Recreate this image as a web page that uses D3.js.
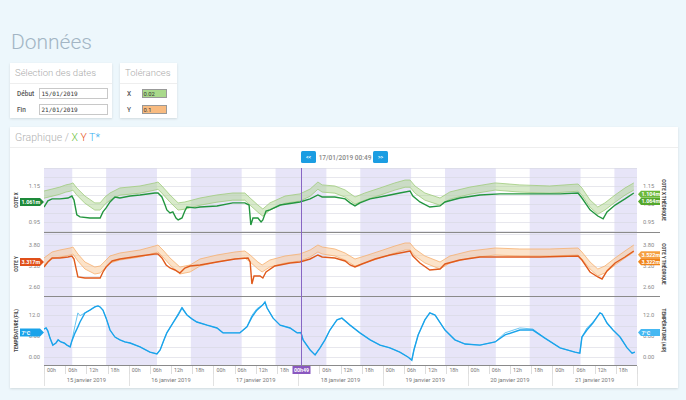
<!DOCTYPE html>
<html>
<head>
<meta charset="utf-8">
<script src="https://cdn.jsdelivr.net/npm/d3@7/dist/d3.min.js"></script>
<style>
  body { margin: 0; background: #edf7fc; font-family: Roboto, "Noto Sans", sans-serif; }
</style>
</head>
<body>
<div id="chart"></div>
<script>
// time is in hours from 15/01/2019 00:00
var startDate = new Date(2019, 0, 15);
var spanHours = 168;
var dayLabels = ['15 janvier 2019', '16 janvier 2019', '17 janvier 2019', '18 janvier 2019',
  '19 janvier 2019', '20 janvier 2019', '21 janvier 2019'];
var nightBands = [[0, 8], [17.6, 32], [41.6, 56], [65.6, 80], [89.6, 104], [113.6, 128], [137.6, 152], [161.6, 168]];

var tolX = 0.02, tolY = 0.1;

var xTheo = [[0,1.102],[2.3,1.113],[4.5,1.124],[6.2,1.136],[7.4,1.141],[8.2,1.147],[9.3,1.119],[11.6,1.074],
  [14.4,1.036],[15.9,1.036],[17.3,1.069],[18.7,1.091],[21.5,1.119],[27.2,1.130],[31.4,1.147],[32.3,1.152],
  [33.4,1.130],[35.7,1.080],[38.0,1.036],[39.9,1.041],[44.2,1.063],[49.0,1.080],[53.5,1.091],[56.9,1.091],
  [58.4,1.063],[60.6,1.024],[62.0,1.002],[64.0,1.036],[68.3,1.074],[72.5,1.086],[75.4,1.113],[77.6,1.152],
  [78.8,1.136],[82.4,1.130],[85.3,1.108],[88.1,1.069],[90.9,1.091],[95.2,1.119],[99.4,1.147],[102.3,1.163],
  [103.7,1.163],[105.1,1.130],[107.9,1.091],[112.2,1.063],[115.0,1.097],[120.7,1.124],[127.8,1.147],
  [134.8,1.136],[143.3,1.130],[151.3,1.141],[152.4,1.119],[154.7,1.052],[156.9,1.013],[158.9,1.036],
  [161.8,1.080],[164.6,1.119],[167.1,1.147]];
var xMes = [[0,1.033],[1.1,1.067],[2.3,1.078],[4.5,1.078],[6.8,1.083],[7.9,1.094],[8.5,1.072],[9.3,0.989],
  [10.2,0.978],[13.0,0.972],[15.9,0.972],[16.7,1.006],[17.6,1.028],[18.7,1.061],[20.1,1.089],[21.5,1.083],
  [24.4,1.094],[27.2,1.100],[31.4,1.111],[32.3,1.111],[33.4,1.089],[34.3,1.044],[34.8,1.017],[35.7,1.000],
  [36.5,1.006],[37.4,0.972],[38.0,0.961],[39.1,0.972],[39.9,1.011],[40.5,1.033],[42.8,1.028],[44.2,1.033],
  [49.0,1.039],[53.5,1.056],[56.9,1.056],[58.1,1.044],[58.6,0.933],[59.2,0.972],[60.6,0.972],[61.5,0.950],
  [62.0,0.961],[62.9,1.011],[64.0,1.017],[66.9,1.044],[72.5,1.061],[75.4,1.078],[77.6,1.100],[78.8,1.089],
  [82.4,1.089],[85.3,1.078],[86.7,1.056],[88.1,1.039],[89.5,1.056],[92.4,1.078],[96.6,1.094],[100.8,1.111],
  [103.7,1.122],[104.5,1.094],[106.5,1.061],[109.3,1.033],[112.2,1.039],[113.6,1.061],[117.8,1.083],
  [123.5,1.100],[129.2,1.106],[137.7,1.106],[146.2,1.106],[151.3,1.111],[152.4,1.083],[154.7,1.017],
  [156.9,0.983],[158.4,0.967],[159.5,1.006],[161.8,1.044],[164.6,1.078],[167.1,1.111]];

var yTheo = [[0,3.329],[2.3,3.500],[4.5,3.557],[7.4,3.614],[8.2,3.643],[9.6,3.443],[11.6,3.214],[14.4,3.071],
  [15.9,3.100],[17.6,3.271],[18.7,3.386],[21.5,3.471],[27.2,3.557],[31.4,3.671],[32.3,3.700],[33.7,3.557],
  [35.7,3.329],[38.5,3.071],[41.4,3.129],[44.2,3.300],[49.0,3.414],[54.1,3.500],[56.9,3.529],[58.4,3.414],
  [60.6,3.214],[61.8,3.129],[64.0,3.271],[68.3,3.386],[72.5,3.443],[75.4,3.557],[77.6,3.700],[78.8,3.643],
  [82.4,3.586],[85.3,3.471],[88.1,3.300],[90.9,3.386],[95.2,3.529],[99.4,3.671],[102.3,3.757],[103.7,3.757],
  [105.1,3.586],[107.9,3.386],[112.2,3.214],[115.0,3.386],[120.7,3.529],[127.8,3.614],[134.8,3.586],
  [143.3,3.586],[151.3,3.614],[152.4,3.500],[154.7,3.214],[156.9,3.014],[158.9,3.100],[161.8,3.329],
  [164.6,3.529],[167.1,3.700]];
var yMes = [[0,3.171],[1.1,3.314],[2.3,3.429],[4.5,3.429],[6.8,3.457],[7.9,3.486],[8.5,3.400],[9.6,2.886],
  [11.6,2.857],[15.9,2.857],[16.7,3.029],[17.6,3.171],[19.3,3.343],[21.5,3.400],[27.2,3.486],[31.4,3.543],
  [32.3,3.543],[33.4,3.429],[34.6,3.229],[35.7,3.143],[37.1,3.086],[38.5,3.000],[39.9,3.143],[41.4,3.200],
  [44.2,3.229],[49.0,3.314],[54.1,3.400],[57.8,3.429],[58.4,3.314],[58.9,2.686],[59.5,2.914],[61.2,2.914],
  [62.0,2.857],[62.9,3.029],[65.4,3.200],[69.7,3.286],[72.5,3.314],[75.4,3.400],[77.6,3.514],[78.8,3.457],
  [82.4,3.429],[85.3,3.343],[86.7,3.229],[88.1,3.171],[90.1,3.257],[93.8,3.400],[98.0,3.514],[102.3,3.600],
  [103.7,3.629],[104.5,3.486],[106.5,3.286],[109.3,3.086],[112.2,3.114],[113.6,3.257],[117.8,3.371],
  [123.5,3.457],[129.2,3.457],[140.5,3.457],[151.3,3.486],[152.4,3.371],[154.7,3.029],[156.9,2.886],
  [158.1,2.829],[159.5,3.057],[161.8,3.286],[164.6,3.457],[167.1,3.629]];

var tFil = [[0,8.0],[0.6,8.3],[1.1,7.4],[1.7,5.4],[2.5,3.4],[3.4,4.0],[4.0,4.9],[4.8,4.3],[5.7,4.0],[6.5,3.4],
  [7.4,2.9],[7.9,4.6],[8.8,6.9],[9.6,8.6],[10.2,10.0],[11.6,12.6],[13.0,13.4],[14.4,14.3],[15.3,14.6],
  [15.9,14.3],[16.7,13.4],[17.6,11.1],[18.7,7.7],[20.1,5.7],[21.5,4.9],[22.9,4.3],[24.4,4.0],[27.2,2.9],
  [30.0,1.4],[32.0,0.9],[32.9,2.0],[34.0,4.9],[34.8,6.9],[36.5,9.7],[38.0,12.0],[39.1,14.0],[40.5,12.0],
  [41.9,10.9],[43.3,10.0],[46.2,9.1],[49.0,8.3],[50.7,6.9],[53.5,6.9],[55.5,6.9],[57.5,8.6],[58.9,11.4],
  [60.3,13.4],[62.0,14.9],[62.6,15.7],[63.2,14.0],[64.9,11.1],[66.9,9.1],[69.7,8.3],[71.7,6.9],[72.8,7.0],
  [73.4,4.9],[75.4,2.0],[76.8,0.6],[78.2,2.6],[79.6,4.9],[81.0,7.7],[83.0,10.6],[84.4,11.1],[86.7,9.1],
  [89.5,6.9],[92.4,4.9],[95.2,3.4],[98.0,2.6],[100.8,1.4],[103.1,0.0],[104.2,-0.9],[104.8,2.0],[106.0,6.3],
  [107.9,10.6],[109.3,12.6],[110.8,12.0],[113.6,7.7],[116.4,4.9],[119.3,3.7],[123.5,3.4],[127.8,4.3],
  [130.6,6.3],[134.8,7.7],[138.5,7.7],[141.9,5.4],[146.2,2.6],[150.4,1.4],[151.8,1.1],[152.4,5.7],
  [153.8,7.7],[155.5,9.7],[157.5,12.6],[158.1,12.3],[159.5,9.7],[161.2,7.7],[163.2,5.7],[165.2,2.6],
  [166.6,1.1],[167.4,1.4]];
var tAir = [[0,8.0],[0.6,8.3],[1.1,7.4],[1.7,5.4],[2.5,3.4],[3.4,4.0],[4.0,4.9],[4.8,4.3],[5.7,4.0],[6.5,3.4],
  [7.4,2.9],[7.9,4.6],[8.8,9.0],[9.6,12.6],[10.2,11.8],[11.6,12.6],[13.0,13.4],[14.4,14.3],[15.3,14.6],
  [15.9,14.3],[16.7,13.4],[17.6,11.1],[18.7,7.7],[20.1,5.7],[21.5,4.9],[22.9,4.3],[24.4,4.0],[27.2,2.9],
  [30.0,1.4],[32.0,0.9],[32.9,2.0],[34.0,4.9],[34.8,6.9],[36.5,9.7],[38.0,12.4],[39.1,14.3],[40.5,12.0],
  [41.9,10.9],[43.3,10.0],[46.2,9.1],[49.0,8.3],[50.7,6.9],[53.5,6.9],[55.5,6.9],[57.5,8.6],[58.9,11.9],
  [60.3,13.8],[62.0,14.9],[62.6,15.7],[63.2,14.0],[64.9,11.1],[66.9,9.1],[69.7,8.3],[71.7,6.9],[72.8,7.0],
  [73.4,4.9],[75.4,2.0],[76.8,0.6],[78.2,2.6],[79.6,4.9],[81.0,7.7],[83.0,10.6],[84.4,11.1],[86.7,9.1],
  [89.5,6.9],[92.4,4.9],[95.2,3.4],[98.0,2.6],[100.8,1.4],[103.1,0.0],[104.2,-0.9],[104.8,2.0],[106.0,6.3],
  [107.9,10.6],[109.3,12.6],[110.8,12.0],[113.6,7.7],[116.4,4.9],[119.3,3.7],[123.5,3.4],[127.8,4.3],
  [130.6,6.9],[134.8,8.3],[138.5,8.0],[141.9,5.4],[146.2,2.6],[150.4,1.4],[151.8,1.1],[152.4,5.7],
  [153.8,8.3],[155.5,10.0],[157.5,12.6],[158.1,12.3],[159.5,9.7],[161.2,7.7],[163.2,5.7],[165.2,2.6],
  [166.6,1.1],[167.4,1.4]];

var xTicks = [0.95, 1.05, 1.15], xGrid = [0.90, 0.95, 1.00, 1.05, 1.10, 1.15, 1.20, 1.25];
var yTicks = [2.60, 3.20, 3.80], yGrid = [2.60, 2.90, 3.20, 3.50, 3.80, 4.10];
var tTicks = [0, 6, 12], tGrid = [0, 3, 6, 9, 12, 15];

var cursorHour = 72 + 49 / 60;
var cursorText = '17/01/2019 00:49', cursorTick = '00h49';
var cursorX = 1.061, cursorXTheo = 1.084;
var cursorY = 3.317, cursorYTheo = 3.422;
var cursorT = 7, cursorTAir = 7;

function toDate(h) { return new Date(startDate.getTime() + h * 3600e3); }

var svg = d3.select('#chart').append('svg')
  .attr('width', 686)
  .attr('height', 400)
  .style('display', 'block');

var defs = svg.append('defs');
defs.append('filter').attr('id', 'shadow')
  .attr('x', '-5%').attr('y', '-5%').attr('width', '110%').attr('height', '115%')
  .append('feDropShadow')
  .attr('dx', 0).attr('dy', 1).attr('stdDeviation', 1.2)
  .attr('flood-color', '#000').attr('flood-opacity', 0.12);

// page title
svg.append('text').attr('x', 11).attr('y', 49)
  .attr('font-size', 21).attr('font-weight', 300).attr('fill', '#a2b5c4')
  .text('Données');

function card(x, y, w, h) {
  svg.append('rect').attr('x', x).attr('y', y).attr('width', w).attr('height', h)
    .attr('fill', '#fff').attr('filter', 'url(#shadow)');
}

// date selection card
card(10, 63, 102, 55);
svg.append('text').attr('x', 15).attr('y', 76).attr('font-size', 9.5).attr('font-weight', 300)
  .attr('fill', '#aaa').text('Sélection des dates');
svg.append('line').attr('x1', 10).attr('x2', 112).attr('y1', 83.5).attr('y2', 83.5).attr('stroke', '#eee');
[['Début', '15/01/2019', 88], ['Fin', '21/01/2019', 104]].forEach(function(r) {
  svg.append('text').attr('x', 17).attr('y', r[2] + 7.5).attr('font-size', 6.5).attr('font-weight', 500)
    .attr('fill', '#555').text(r[0]);
  svg.append('rect').attr('x', 39.5).attr('y', r[2] + 0.5).attr('width', 68).attr('height', 10)
    .attr('fill', '#fff').attr('stroke', '#c8c8c8');
  svg.append('text').attr('x', 41.5).attr('y', r[2] + 7.8).attr('font-size', 6)
    .attr('font-family', '"DejaVu Sans Mono", monospace').attr('fill', '#333').text(r[1]);
});

// tolerance card
card(120, 63, 57, 55);
svg.append('text').attr('x', 125).attr('y', 76).attr('font-size', 9.5).attr('font-weight', 300)
  .attr('fill', '#aaa').text('Tolérances');
svg.append('line').attr('x1', 120).attr('x2', 177).attr('y1', 83.5).attr('y2', 83.5).attr('stroke', '#eee');
[['X', tolX, 89, '#a9d98b'], ['Y', tolY, 105, '#f8bb80']].forEach(function(r) {
  svg.append('text').attr('x', 127).attr('y', r[2] + 6.5).attr('font-size', 6.5).attr('font-weight', 500)
    .attr('fill', '#555').text(r[0]);
  svg.append('rect').attr('x', 142.5).attr('y', r[2] + 0.5).attr('width', 24).attr('height', 8)
    .attr('fill', r[3]).attr('stroke', '#999');
  svg.append('text').attr('x', 143.5).attr('y', r[2] + 6.8).attr('font-size', 5.8)
    .attr('fill', '#333').text(r[1]);
});

// main chart card
card(10, 127, 668, 261);
var head = svg.append('text').attr('x', 15).attr('y', 140.5).attr('font-size', 10.5)
  .attr('font-weight', 300).attr('fill', '#b0b0b0');
head.append('tspan').text('Graphique / ');
head.append('tspan').attr('fill', '#6cbf3c').text('X ');
head.append('tspan').attr('fill', '#e8541c').text('Y ');
head.append('tspan').attr('fill', '#35aef0').text('T*');
svg.append('line').attr('x1', 10).attr('x2', 678).attr('y1', 147.5).attr('y2', 147.5).attr('stroke', '#eee');

[[301, '<<'], [373, '>>']].forEach(function(b) {
  svg.append('rect').attr('x', b[0]).attr('y', 151).attr('width', 15).attr('height', 12).attr('rx', 1.5)
    .attr('fill', '#1b9de2');
  svg.append('text').attr('x', b[0] + 7.5).attr('y', 159).attr('text-anchor', 'middle')
    .attr('font-size', 5).attr('font-weight', 700).attr('fill', '#fff').text(b[1]);
});
svg.append('text').attr('x', 345).attr('y', 159.5).attr('text-anchor', 'middle')
  .attr('font-size', 6.5).attr('font-weight', 500).attr('fill', '#888').text(cursorText);

// plot
var left = 44, right = 637;
var x = d3.scaleTime().domain([toDate(0), toDate(spanHours)]).range([left, right]);

var panels = [
  { top: 168, bottom: 232, domain: [0.894, 1.25], ticks: xTicks, grid: xGrid, fmt: d3.format('.2f'),
    titleL: 'COTE X', titleR: 'COTE X THÉORIQUE' },
  { top: 232, bottom: 296, domain: [2.343, 4.171], ticks: yTicks, grid: yGrid, fmt: d3.format('.2f'),
    titleL: 'COTE Y', titleR: 'COTE Y THÉORIQUE' },
  { top: 296, bottom: 365, domain: [-2.286, 17.43], ticks: tTicks, grid: tGrid, fmt: d3.format('.3r'),
    titleL: 'TEMPÉRATURE (FIL)', titleR: 'TEMPÉRATURE (AIR)' }
];
panels.forEach(function(p) {
  p.y = d3.scaleLinear().domain(p.domain).range([p.bottom, p.top]);
});

var plot = svg.append('g');
plot.selectAll('rect.night').data(nightBands).enter().append('rect')
  .attr('x', function(d) { return x(toDate(d[0])); })
  .attr('width', function(d) { return x(toDate(d[1])) - x(toDate(d[0])); })
  .attr('y', 168).attr('height', 365 - 168)
  .attr('fill', '#e7e5f8');

panels.forEach(function(p, i) {
  var g = plot.append('g');
  g.selectAll('line.grid').data(p.grid).enter().append('line')
    .attr('x1', left).attr('x2', right)
    .attr('y1', function(d) { return Math.round(p.y(d)) + 0.5; })
    .attr('y2', function(d) { return Math.round(p.y(d)) + 0.5; })
    .attr('stroke', '#d6d6e0').attr('stroke-width', 0.6);

  g.selectAll('text.tl').data(p.ticks).enter().append('text')
    .attr('x', 40).attr('y', function(d) { return p.y(d) + 2; })
    .attr('text-anchor', 'end').attr('font-size', 5.8).attr('fill', '#888')
    .text(p.fmt);
  g.selectAll('text.tr').data(p.ticks).enter().append('text')
    .attr('x', 643).attr('y', function(d) { return p.y(d) + 2; })
    .attr('font-size', 5.8).attr('fill', '#888')
    .text(p.fmt);

  var cy = (p.top + p.bottom) / 2;
  svg.append('text').attr('transform', 'translate(18,' + cy + ') rotate(-90)')
    .attr('text-anchor', 'middle').attr('font-size', 4.6).attr('font-weight', 700)
    .attr('fill', '#444').text(p.titleL);
  svg.append('text').attr('transform', 'translate(662,' + cy + ') rotate(90)')
    .attr('text-anchor', 'middle').attr('font-size', 4.6).attr('font-weight', 700)
    .attr('fill', '#444').text(p.titleR);

  defs.append('clipPath').attr('id', 'clip' + i).append('rect')
    .attr('x', left).attr('y', p.top).attr('width', right - left).attr('height', p.bottom - p.top);
});

function lineFor(p) {
  return d3.line()
    .x(function(d) { return x(toDate(d[0])); })
    .y(function(d) { return p.y(d[1]); });
}
function bandFor(p, tol) {
  return d3.area()
    .x(function(d) { return x(toDate(d[0])); })
    .y0(function(d) { return p.y(d[1] - tol); })
    .y1(function(d) { return p.y(d[1] + tol); });
}

var px = panels[0], py = panels[1], pt = panels[2];

var gx = plot.append('g').attr('clip-path', 'url(#clip0)');
gx.append('path').datum(xTheo).attr('d', bandFor(px, tolX))
  .attr('fill', '#a8d08a').attr('fill-opacity', 0.45);
[tolX, -tolX].forEach(function(t) {
  gx.append('path').datum(xTheo.map(function(d) { return [d[0], d[1] + t]; }))
    .attr('d', lineFor(px)).attr('fill', 'none').attr('stroke', '#9fcc7c').attr('stroke-width', 0.8);
});
gx.append('path').datum(xMes).attr('d', lineFor(px))
  .attr('fill', 'none').attr('stroke', '#23963f').attr('stroke-width', 1.4);

var gy = plot.append('g').attr('clip-path', 'url(#clip1)');
gy.append('path').datum(yTheo).attr('d', bandFor(py, tolY))
  .attr('fill', '#f9c794').attr('fill-opacity', 0.5);
[tolY, -tolY].forEach(function(t) {
  gy.append('path').datum(yTheo.map(function(d) { return [d[0], d[1] + t]; }))
    .attr('d', lineFor(py)).attr('fill', 'none').attr('stroke', '#f6b070').attr('stroke-width', 0.8);
});
gy.append('path').datum(yMes).attr('d', lineFor(py))
  .attr('fill', 'none').attr('stroke', '#e05a1c').attr('stroke-width', 1.4);

var gt = plot.append('g').attr('clip-path', 'url(#clip2)');
gt.append('path').datum(tAir).attr('d', lineFor(pt))
  .attr('fill', 'none').attr('stroke', '#6cc6f2').attr('stroke-width', 1);
gt.append('path').datum(tFil).attr('d', lineFor(pt))
  .attr('fill', 'none').attr('stroke', '#1aa3ea').attr('stroke-width', 1.4);

// panel separators
[232, 296].forEach(function(yy) {
  svg.append('line').attr('x1', left).attr('x2', 660).attr('y1', yy + 0.5).attr('y2', yy + 0.5)
    .attr('stroke', '#8a8a8a').attr('stroke-width', 1);
});
svg.append('line').attr('x1', left).attr('x2', right).attr('y1', 365.5).attr('y2', 365.5)
  .attr('stroke', '#8a8a8a').attr('stroke-width', 1);

// time axis
var hourTicks = x.ticks(d3.timeHour.every(6));
var axis = svg.append('g');
axis.selectAll('line.ht').data(hourTicks).enter().append('line')
  .attr('x1', function(d) { return Math.round(x(d)) + 0.5; })
  .attr('x2', function(d) { return Math.round(x(d)) + 0.5; })
  .attr('y1', 366).attr('y2', 374).attr('stroke', '#ddd');
axis.selectAll('text.ht').data(hourTicks.slice(0, -1)).enter().append('text')
  .attr('x', function(d) { return x(d) + 3; }).attr('y', 371.5)
  .attr('font-size', 5.3).attr('fill', '#777')
  .text(d3.timeFormat('%Hh'));
var days = d3.range(dayLabels.length + 1).map(function(i) { return toDate(i * 24); });
axis.selectAll('line.dt').data(days).enter().append('line')
  .attr('x1', function(d) { return Math.round(x(d)) + 0.5; })
  .attr('x2', function(d) { return Math.round(x(d)) + 0.5; })
  .attr('y1', 374).attr('y2', 386).attr('stroke', '#e2e2e2');
axis.selectAll('text.dt').data(dayLabels).enter().append('text')
  .attr('x', function(d, i) { return x(toDate(i * 24 + 12)); }).attr('y', 381.5)
  .attr('text-anchor', 'middle').attr('font-size', 5.8).attr('fill', '#777')
  .text(function(d) { return d; });

// cursor
var cx = Math.round(x(toDate(cursorHour))) + 0.5;
svg.append('line').attr('x1', cx).attr('x2', cx).attr('y1', 168).attr('y2', 366)
  .attr('stroke', '#8866c4').attr('stroke-width', 1);
svg.append('rect').attr('x', cx - 9).attr('y', 366).attr('width', 18).attr('height', 8)
  .attr('fill', '#8a58bf');
svg.append('text').attr('x', cx).attr('y', 371.8).attr('text-anchor', 'middle')
  .attr('font-size', 5.3).attr('font-weight', 700).attr('fill', '#fff').text(cursorTick);

function tag(side, yy, color, txt) {
  var pts;
  if (side === 'left') pts = [[20, yy - 4], [40, yy - 4], [44, yy], [40, yy + 4], [20, yy + 4]];
  else pts = [[638, yy], [641, yy - 3.5], [660, yy - 3.5], [660, yy + 3.5], [641, yy + 3.5]];
  svg.append('polygon').attr('points', pts.map(function(p) { return p.join(','); }).join(' '))
    .attr('fill', color);
  svg.append('text').attr('x', side === 'left' ? 21.5 : 641.5).attr('y', yy + 2)
    .attr('font-size', 5.4).attr('font-weight', 700).attr('fill', '#fff').text(txt);
}
tag('left', px.y(cursorX), '#1e8a3a', d3.format('.3f')(cursorX) + 'm');
tag('right', px.y(cursorXTheo + tolX), '#6cb83a', d3.format('.3f')(cursorXTheo + tolX) + 'm');
tag('right', px.y(cursorXTheo - tolX), '#54a82c', d3.format('.3f')(cursorXTheo - tolX) + 'm');
tag('left', py.y(cursorY), '#e0501a', d3.format('.3f')(cursorY) + 'm');
tag('right', py.y(cursorYTheo + tolY), '#f5a040', d3.format('.3f')(cursorYTheo + tolY) + 'm');
tag('right', py.y(cursorYTheo - tolY), '#f08418', d3.format('.3f')(cursorYTheo - tolY) + 'm');
tag('left', pt.y(cursorT), '#1aa3ea', cursorT + '°C');
tag('right', pt.y(cursorTAir), '#45b8f2', cursorTAir + '°C');
</script>
</body>
</html>
